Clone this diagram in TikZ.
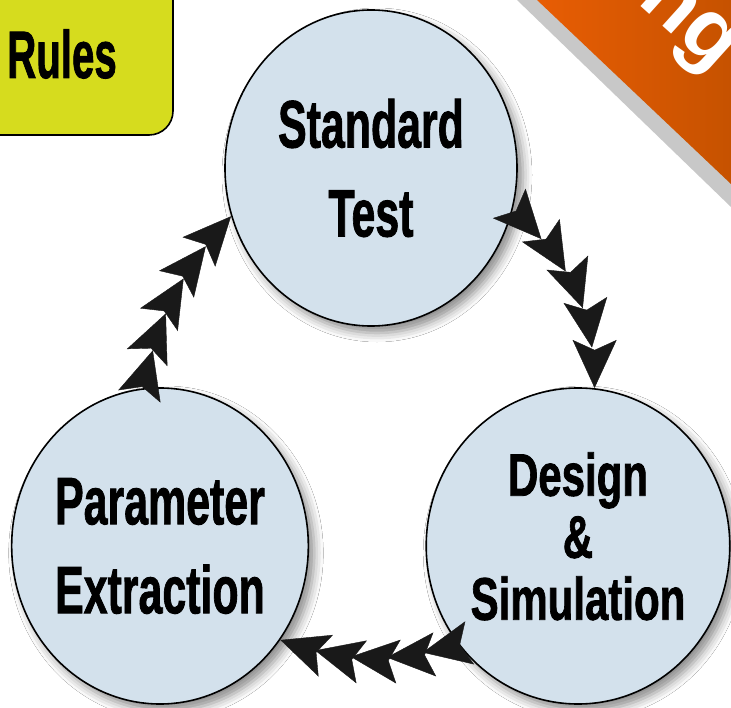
\documentclass[tikz,border=0pt]{standalone}
\usepackage{fontspec}
\setmainfont{Liberation Sans}
\newfontfamily\stagefont[BoldFeatures={FakeBold=1.5}]{Liberation Sans}
\usepackage{graphicx}
\usepackage{tikz}
\usetikzlibrary{arrows.meta}
\usetikzlibrary{shapes.geometric}
\usetikzlibrary{decorations.markings}
\usetikzlibrary{shadows.blur}
\definecolor{stagefill}{RGB}{211,225,236}
\definecolor{rulesfill}{RGB}{214,220,30}
\definecolor{bannerl}{RGB}{232,93,4}
\definecolor{bannerr}{RGB}{198,82,0}
\definecolor{bannergray}{RGB}{200,200,200}
\definecolor{headcol}{RGB}{25,25,25}
\newcommand{\narrowtxt}[2][0.64]{\scalebox{#1}[1]{#2}}

\begin{document}
\begin{tikzpicture}[x=1pt,y=1pt,
  stage/.style={ellipse,draw=black,line width=1.6pt,fill=stagefill,minimum width=292pt,minimum height=316pt,inner sep=0pt,align=center,
    font=\stagefont\bfseries\fontsize{67}{89}\selectfont,
    blur shadow={shadow xshift=6pt,shadow yshift=-7pt,shadow blur radius=9pt,shadow opacity=45}},
  headchain/.style={color=headcol,decoration={markings,mark=between positions 0.199 and 1 step 0.2 with {\arrow{Stealth[length=48pt,width=44pt,inset=10pt]}}},postaction={decorate}}]
  \useasboundingbox (0,0) rectangle (731,-708);
  \clip (0,0) rectangle (731,-708);
  \fill[white] (0,0) rectangle (731,-708);
  \fill[bannergray] (517,0) -- (731,0) -- (731,-207) -- cycle;
  \shade[left color=bannerl,right color=bannerr] (537,0) -- (731,0) -- (731,-184) -- cycle;
  \node[white,rotate=-42,font=\bfseries\fontsize{86}{86}\selectfont] (ban) at (685,-27) {ng};
  \draw[fill=rulesfill,line width=1.6pt,rounded corners=24pt] (-40,40) rectangle (173,-135);
  \node[font=\stagefont\bfseries\fontsize{67}{67}\selectfont] (rules) at (62,-54) {\narrowtxt[0.6]{Rules}};
  \node[stage] (std) at (371,-168) {\narrowtxt{Standard}\\\narrowtxt{Test}};
  \node[stage] (par) at (160,-546) {\narrowtxt{Parameter}\\\narrowtxt{Extraction}};
  \node[stage,font=\stagefont\bfseries\fontsize{60}{62}\selectfont] (des) at (578,-546) {\narrowtxt[0.7]{Design}\\\narrowtxt[0.7]{\&}\\\narrowtxt[0.7]{Simulation}\rule[-20pt]{0pt}{0pt}};
  \path[headchain] (std.-17) to[bend left=25] (des.84);
  \path[headchain] (des.219) to[bend left=18] (par.-38);
  \path[headchain] (par.96) to[bend left=15] (std.199);
\end{tikzpicture}
\end{document}
